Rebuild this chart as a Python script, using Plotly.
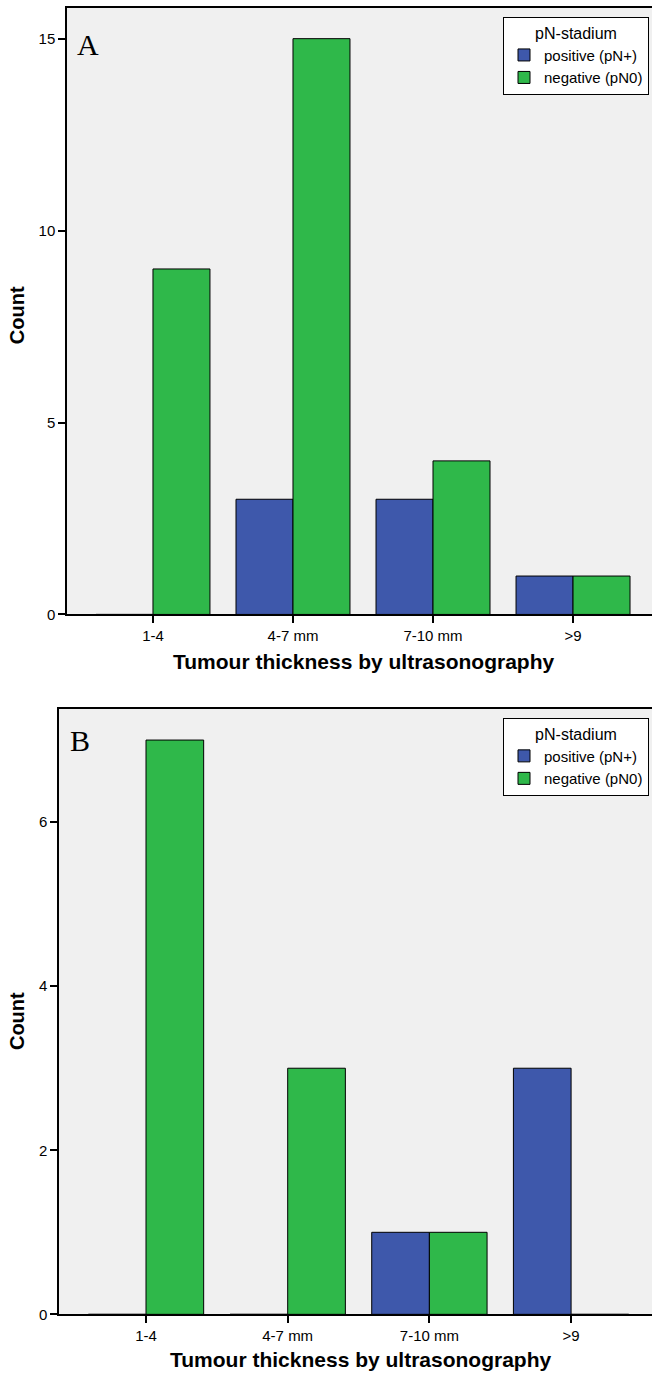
import plotly.graph_objects as go

categories = ["1-4", "4-7 mm", "7-10 mm", ">9"]
a_positive = [0, 3, 3, 1]
a_negative = [9, 15, 4, 1]
b_positive = [0, 0, 1, 3]
b_negative = [7, 3, 1, 0]
a_yticks = [0, 5, 10, 15]
b_yticks = [0, 2, 4, 6]

W, H = 652, 1381
BLUE = "#3E58AB"
GREEN = "#2FB84A"
BG = "#F0F0F0"
FONT = "Liberation Sans, Arial, sans-serif"

def px(x):
    return x / W

def py(y):
    return 1 - y / H

fig = go.Figure()
idx = list(range(len(categories)))

fig.add_trace(go.Bar(x=idx, y=a_positive, name="positive (pN+)", marker=dict(color=BLUE, line=dict(color="black", width=1)),
                     xaxis="x", yaxis="y", legend="legend", offsetgroup="p"))
fig.add_trace(go.Bar(x=idx, y=a_negative, name="negative (pN0)", marker=dict(color=GREEN, line=dict(color="black", width=1)),
                     xaxis="x", yaxis="y", legend="legend", offsetgroup="n"))
fig.add_trace(go.Bar(x=idx, y=b_positive, name="positive (pN+)", marker=dict(color=BLUE, line=dict(color="black", width=1)),
                     xaxis="x2", yaxis="y2", legend="legend2", offsetgroup="p"))
fig.add_trace(go.Bar(x=idx, y=b_negative, name="negative (pN0)", marker=dict(color=GREEN, line=dict(color="black", width=1)),
                     xaxis="x2", yaxis="y2", legend="legend2", offsetgroup="n"))

xcommon = dict(tickmode="array", tickvals=idx, ticktext=categories, ticks="outside", ticklen=7, tickwidth=1.5,
               tickcolor="black", showline=True, linecolor="black", linewidth=1.5, mirror=True,
               showgrid=False, zeroline=False, tickfont=dict(family=FONT, size=15, color="black"))
ycommon = dict(ticks="outside", ticklen=7, tickwidth=1.5, tickcolor="black", showline=True, linecolor="black",
               linewidth=1.5, mirror=False, showgrid=False, zeroline=False,
               tickfont=dict(family=FONT, size=15, color="black"))

legcommon = dict(bgcolor="white", bordercolor="black", borderwidth=1, xanchor="right", yanchor="top",
                 font=dict(family=FONT, size=15, color="black"), tracegroupgap=0,
                 title=dict(text="pN-stadium", side="top center", font=dict(family=FONT, size=16, color="black")))

fig.update_layout(
    width=W, height=H, margin=dict(l=0, r=0, t=0, b=0),
    paper_bgcolor="white", plot_bgcolor=BG,
    barmode="group", bargap=0.186, bargroupgap=0,
    xaxis=dict(domain=[px(67), 1], range=[-0.614, 3.564], anchor="y", **xcommon),
    yaxis=dict(domain=[py(618), py(8)], range=[0, 15.8], tickvals=a_yticks, anchor="x", **ycommon),
    xaxis2=dict(domain=[px(59), 1], range=[-0.614, 3.571], anchor="y2", **xcommon),
    yaxis2=dict(domain=[py(1322), py(713)], range=[0, 7.38], tickvals=b_yticks, anchor="x2", **ycommon),
    legend=dict(x=px(649), y=py(17), **legcommon),
    legend2=dict(x=px(649), y=py(722), **legcommon),
    showlegend=True,
)

anns = [
    dict(text="A", x=px(75), y=py(45), xanchor="left", yanchor="middle",
         font=dict(family="Liberation Serif, Times New Roman, serif", size=30, color="black")),
    dict(text="B", x=px(68), y=py(745), xanchor="left", yanchor="middle",
         font=dict(family="Liberation Serif, Times New Roman, serif", size=30, color="black")),
    dict(text="<b>Tumour thickness by ultrasonography</b>", x=px(363), y=py(665), xanchor="center", yanchor="middle",
         font=dict(family=FONT, size=21, color="black")),
    dict(text="<b>Tumour thickness by ultrasonography</b>", x=px(360), y=py(1367), xanchor="center", yanchor="middle",
         font=dict(family=FONT, size=21, color="black")),
    dict(text="<b>Count</b>", x=px(17), y=py(317), xanchor="center", yanchor="middle", textangle=-90,
         font=dict(family=FONT, size=20, color="black")),
    dict(text="<b>Count</b>", x=px(17), y=py(1027), xanchor="center", yanchor="middle", textangle=-90,
         font=dict(family=FONT, size=20, color="black")),
]
for a in anns:
    a.update(xref="paper", yref="paper", showarrow=False)
fig.update_layout(annotations=anns)

fig.write_html("out.html")
